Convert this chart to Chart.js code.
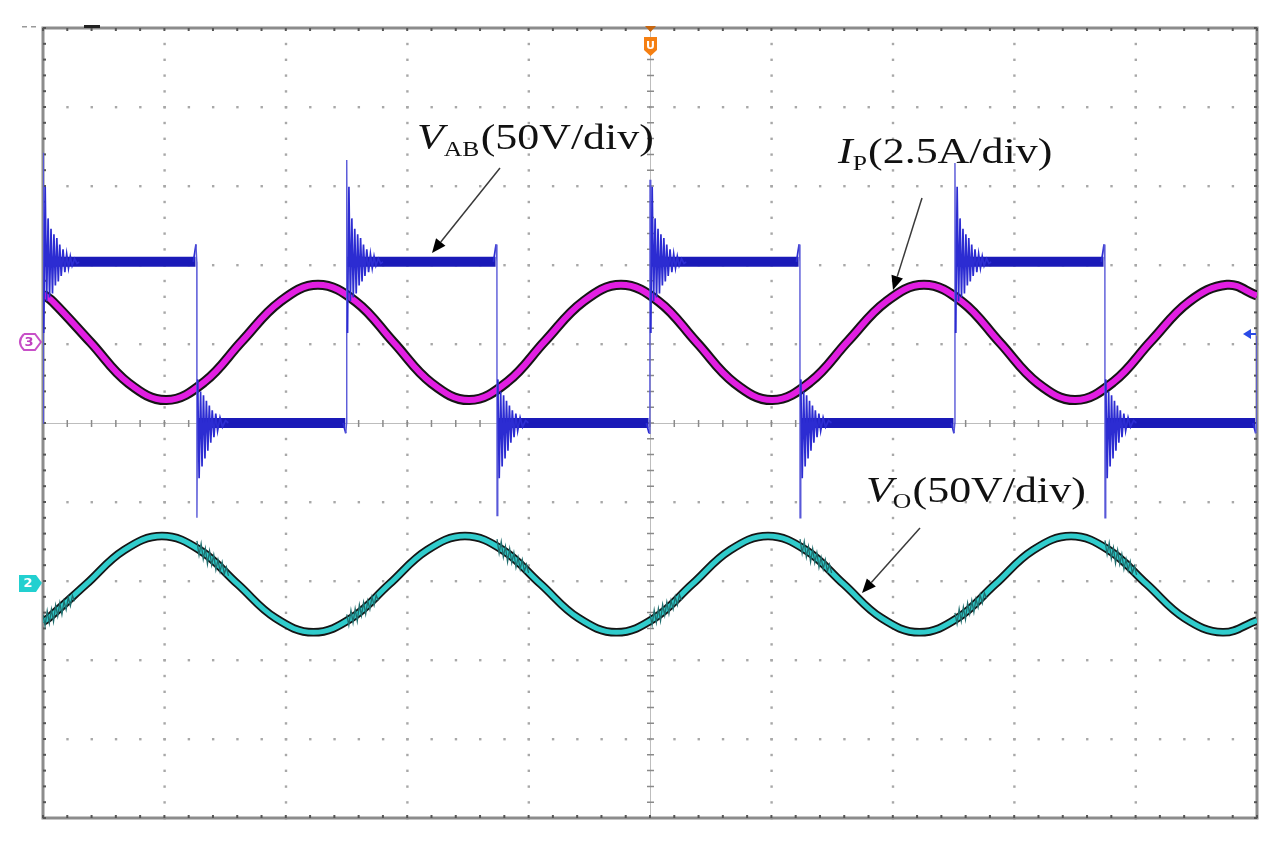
<!DOCTYPE html>
<html><head><meta charset="utf-8">
<script src="https://cdn.jsdelivr.net/npm/chart.js@4.4.0/dist/chart.umd.min.js"></script>
<style>html,body{margin:0;padding:0;background:#fff;}#wrap{width:1285px;height:843px;}</style>
</head><body><div id="wrap"><canvas id="c" width="1285" height="843"></canvas></div>
<script>
// Units: time in horizontal divisions (0..10), amplitude in vertical divisions (-5..5)
const xTicks = [0,1,2,3,4,5,6,7,8,9,10];
const yTicks = [-5,-4,-3,-2,-1,0,1,2,3,4,5];

// Ip (2.5A/div) - magenta
const ipTime  = [0,0.081,0.393,0.705,1.017,1.329,1.641,1.953,2.265,2.577,2.889,3.201,3.513,3.825,4.137,4.449,4.761,5.073,5.385,5.697,6.009,6.321,6.633,6.945,7.257,7.569,7.881,8.193,8.505,8.817,9.129,9.441,9.753,10.0];
const ipValue = [1.63,1.536,1.02,0.504,0.29,0.52,1.04,1.536,1.75,1.536,1.02,0.504,0.29,0.52,1.04,1.536,1.75,1.536,1.02,0.504,0.29,0.52,1.04,1.536,1.75,1.536,1.02,0.504,0.29,0.52,1.04,1.536,1.75,1.613];

// Vo (50V/div) - cyan
const voTime  = [0,0.044,0.356,0.668,0.980,1.292,1.604,1.916,2.228,2.540,2.852,3.164,3.476,3.788,4.100,4.412,4.724,5.036,5.348,5.660,5.972,6.284,6.596,6.908,7.220,7.532,7.844,8.156,8.468,8.780,9.092,9.404,9.716,10.0];
const voValue = [-2.516,-2.471,-2.04,-1.609,-1.43,-1.609,-2.04,-2.471,-2.65,-2.471,-2.04,-1.609,-1.43,-1.609,-2.04,-2.471,-2.65,-2.471,-2.04,-1.609,-1.43,-1.609,-2.04,-2.471,-2.65,-2.471,-2.04,-1.609,-1.43,-1.609,-2.04,-2.471,-2.65,-2.50];
// Vo switching noise patches (start time, level at start, level at end)
const voFuzzStart = [0, 1.268, 2.502, 3.740, 5.0, 6.236, 7.512, 8.748];
const voFuzzFrom  = [-2.516, -1.583, -2.511, -1.56, -2.508, -1.56, -2.493, -1.575];
const voFuzzTo    = [-2.215, -1.894, -2.207, -1.859, -2.204, -1.859, -2.18, -1.882];
const voFuzzLen = 0.26;
const voFuzzPattern = [0.09,-0.07,0.1,-0.08,0.08,-0.1,0.09,-0.07,0.08,-0.09,0.06,-0.07,0.07,-0.06,0.05,-0.04];

// VAB (50V/div) - blue square wave with ringing
const vabHigh = 2.04;
const vabLow = 0;
const vabRiseTimes = [0, 2.502, 5.0, 7.512];
const vabRiseSpike = [3.42, 3.33, 3.08, 3.29];
const vabFallTimes = [1.268, 3.740, 6.236, 8.748];
const vabFallSpike = [-1.2, -1.17, -1.2, -1.2];
const vabPreFallBump = 0.22;
const vabPreRiseDip = -0.13;
const vabEndRise = [9.997, 1.1];
const riseRingOffset = [0.006,0.018,0.03,0.042,0.054,0.066,0.078,0.09,0.102,0.114,0.126,0.138,0.15,0.165,0.18,0.195,0.21,0.225,0.24,0.26,0.28,0.3];
const riseRingValue  = [-0.9,0.95,-0.5,0.55,-0.45,0.42,-0.4,0.35,-0.3,0.3,-0.25,0.22,-0.18,0.16,-0.13,0.1,-0.08,0.07,-0.05,0.04,-0.02,0];
const fallRingOffset = [0.006,0.018,0.03,0.042,0.054,0.066,0.078,0.09,0.102,0.114,0.126,0.14,0.155,0.17,0.19,0.21,0.235,0.26];
const fallRingValue  = [0.55,-0.7,0.4,-0.55,0.35,-0.45,0.28,-0.35,0.22,-0.25,0.16,-0.18,0.12,-0.1,0.07,-0.05,0.03,0];

// ---- build point tables from the arrays above ----
const ipPts = ipTime.map((t,i)=>({x:t,y:ipValue[i]}));
const voPts = voTime.map((t,i)=>({x:t,y:voValue[i]}));
const voFuzzPts = [];
voFuzzStart.forEach((s,i)=>{
  const n = voFuzzPattern.length;
  voFuzzPattern.forEach((p,k)=>{
    const f = k/(n-1);
    voFuzzPts.push({x:s+f*voFuzzLen, y:voFuzzFrom[i]+(voFuzzTo[i]-voFuzzFrom[i])*f+p});
  });
  voFuzzPts.push({x:null,y:null});
});
const vabBandPts = [];
vabRiseTimes.forEach((r,i)=>{
  const f = vabFallTimes[i];
  const nr = i+1<vabRiseTimes.length ? vabRiseTimes[i+1] : vabEndRise[0];
  vabBandPts.push({x:r+0.004,y:vabHigh},{x:f-0.012,y:vabHigh},{x:null,y:null});
  vabBandPts.push({x:f+0.004,y:vabLow},{x:nr-0.012,y:vabLow},{x:null,y:null});
});
const vabPts = [];
vabRiseTimes.forEach((r,i)=>{
  const f = vabFallTimes[i];
  if (i>0) vabPts.push({x:r-0.03,y:vabLow},{x:r-0.008,y:vabLow+vabPreRiseDip},{x:r-0.001,y:vabLow});
  else vabPts.push({x:r,y:vabLow});
  vabPts.push({x:r,y:vabRiseSpike[i]});
  riseRingOffset.forEach((o,k)=>vabPts.push({x:r+o,y:vabHigh+riseRingValue[k]}));
  vabPts.push({x:f-0.03,y:vabHigh},{x:f-0.008,y:vabHigh+vabPreFallBump},{x:f-0.001,y:vabHigh});
  vabPts.push({x:f,y:vabFallSpike[i]});
  fallRingOffset.forEach((o,k)=>vabPts.push({x:f+o,y:vabLow+fallRingValue[k]}));
});
vabPts.push({x:vabEndRise[0]-0.03,y:vabLow},{x:vabEndRise[0]-0.008,y:vabLow+vabPreRiseDip},{x:vabEndRise[0],y:vabLow},{x:vabEndRise[0]+0.002,y:vabEndRise[1]});

// ---- scope graticule ----
const gridPlugin = {
  id:'graticule',
  beforeDatasetsDraw(chart){
    const {ctx, chartArea:a, scales:{x,y}} = chart;
    ctx.save();
    ctx.fillStyle = '#a8a8a8';
    xTicks.forEach((v,i)=>{
      if (i===0 || i===xTicks.length-1 || v===5) return;
      const px = x.getPixelForValue(v);
      for (let m=-5; m<=5.0001; m+=0.2){ const py=y.getPixelForValue(m); ctx.fillRect(px-1,py-1,2.4,2.4); }
    });
    yTicks.forEach((v,i)=>{
      if (i===0 || i===yTicks.length-1 || v===0) return;
      const py = y.getPixelForValue(v);
      for (let m=0; m<=10.0001; m+=0.2){ const px=x.getPixelForValue(m); ctx.fillRect(px-1,py-1,2.4,2.4); }
    });
    const cx = x.getPixelForValue(5), cy = y.getPixelForValue(0);
    ctx.strokeStyle = '#bdbdbd'; ctx.lineWidth = 1;
    ctx.beginPath(); ctx.moveTo(a.left,cy+0.5); ctx.lineTo(a.right,cy+0.5); ctx.moveTo(cx+0.5,a.top); ctx.lineTo(cx+0.5,a.bottom); ctx.stroke();
    ctx.strokeStyle = '#8a8a8a'; ctx.lineWidth = 1.5;
    ctx.beginPath();
    for (let m=0; m<=10.0001; m+=0.2){ const px=x.getPixelForValue(m); ctx.moveTo(px,cy-3); ctx.lineTo(px,cy+4); }
    for (let m=-5; m<=5.0001; m+=0.2){ const py=y.getPixelForValue(m); ctx.moveTo(cx-3,py); ctx.lineTo(cx+4,py); }
    ctx.stroke();
    ctx.strokeStyle = '#8c8c8c'; ctx.lineWidth = 3;
    ctx.strokeRect(a.left, a.top, a.right-a.left, a.bottom-a.top);
    ctx.fillStyle = '#555';
    for (let m=0; m<=10.0001; m+=0.2){ const px=x.getPixelForValue(m); ctx.fillRect(px-1,a.top,2,3); ctx.fillRect(px-1,a.bottom-3,2,3); }
    for (let m=-5; m<=5.0001; m+=0.2){ const py=y.getPixelForValue(m); ctx.fillRect(a.left,py-1,3,2); ctx.fillRect(a.right-3,py-1,3,2); }
    ctx.restore();
  }
};

function arrow(ctx, x1,y1,x2,y2){
  const ang = Math.atan2(y2-y1,x2-x1), L=14, W=6;
  const bx = x2 - L*Math.cos(ang), by = y2 - L*Math.sin(ang);
  ctx.strokeStyle='#3a3a3a'; ctx.lineWidth=1.5;
  ctx.beginPath(); ctx.moveTo(x1,y1); ctx.lineTo(bx,by); ctx.stroke();
  ctx.fillStyle='#000';
  ctx.beginPath(); ctx.moveTo(x2,y2);
  ctx.lineTo(bx + W*Math.sin(ang), by - W*Math.cos(ang));
  ctx.lineTo(bx - W*Math.sin(ang), by + W*Math.cos(ang));
  ctx.closePath(); ctx.fill();
}
function label(ctx, main, sub, rest, x, base, subDy){
  ctx.save(); ctx.translate(x, base); ctx.scale(1.22,1.02);
  ctx.fillStyle='#111'; ctx.textBaseline='alphabetic'; ctx.textAlign='left';
  ctx.font='italic 36px "Liberation Serif"'; ctx.fillText(main,0,0);
  let w = ctx.measureText(main).width;
  ctx.font='21px "Liberation Serif"'; ctx.fillText(sub,w,subDy);
  w += ctx.measureText(sub).width + 1;
  ctx.font='36px "Liberation Serif"'; ctx.fillText(rest,w,0);
  ctx.restore();
}

const annotPlugin = {
  id:'annot',
  afterDatasetsDraw(chart){
    const {ctx} = chart;
    ctx.save();
    label(ctx,'V','AB','(50V/div)',417,149,7);
    label(ctx,'I','P','(2.5A/div)',838,163,7);
    label(ctx,'V','O','(50V/div)',866,502,6);
    arrow(ctx,500,168,432,253);
    arrow(ctx,922,198,893,290);
    arrow(ctx,920,528,862,593);
    ctx.fillStyle='#c8660e';
    ctx.beginPath(); ctx.moveTo(645,26); ctx.lineTo(656,26); ctx.lineTo(650.5,32); ctx.closePath(); ctx.fill();
    ctx.fillStyle='#f57f12';
    ctx.beginPath(); ctx.moveTo(644,37); ctx.lineTo(657,37); ctx.lineTo(657,50); ctx.lineTo(650.5,56); ctx.lineTo(644,50); ctx.closePath(); ctx.fill();
    ctx.fillStyle='#fff'; ctx.font='bold 11px "DejaVu Sans"'; ctx.textAlign='center'; ctx.textBaseline='middle';
    ctx.fillText('U',650.5,46);
    ctx.strokeStyle='#c850c8'; ctx.lineWidth=2;
    ctx.beginPath(); ctx.moveTo(24,334); ctx.lineTo(35,334); ctx.lineTo(41,342); ctx.lineTo(35,350); ctx.lineTo(24,350);
    ctx.quadraticCurveTo(16,342,24,334); ctx.stroke();
    ctx.fillStyle='#c040c0'; ctx.font='bold 13px "DejaVu Sans"'; ctx.fillText('3',29,342.5);
    ctx.fillStyle='#22d0d0';
    ctx.beginPath(); ctx.moveTo(19,575); ctx.lineTo(36,575); ctx.lineTo(42,583); ctx.lineTo(36,592); ctx.lineTo(19,592); ctx.closePath(); ctx.fill();
    ctx.fillStyle='#fff'; ctx.font='bold 13px "DejaVu Sans"'; ctx.fillText('2',28,584);
    ctx.fillStyle='#2a4ae6';
    ctx.beginPath(); ctx.moveTo(1243,334); ctx.lineTo(1251,329); ctx.lineTo(1251,339); ctx.closePath(); ctx.fill();
    ctx.fillRect(1250,333,6,2);
    ctx.fillStyle='#222'; ctx.fillRect(84,25,16,3);
    ctx.fillStyle='#999'; ctx.fillRect(22,26,5,1.5); ctx.fillRect(31,26,5,1.5);
    ctx.restore();
  }
};

const vabSeg = {
  borderWidth: c => { const dx=Math.abs(c.p1.x-c.p0.x); if (dx<1.2) return 1.4; return 1.7; },
  borderColor: c => { const dx=Math.abs(c.p1.x-c.p0.x), dy=Math.abs(c.p1.y-c.p0.y); if (dx<1.2) return '#5858d8'; if (dy<0.5*dx) return '#1a1ab8'; return '#2c2cd2'; }
};

new Chart(document.getElementById('c'), {
  type:'line',
  data:{ datasets:[
    {label:'VAB', data:vabPts, order:0, borderColor:'#2c2cd2', borderWidth:1.7, tension:0, segment:vabSeg},
    {label:'VAB level', data:vabBandPts, order:1, borderColor:'#1a1ab8', borderWidth:10, tension:0, borderCapStyle:'butt', spanGaps:false},
    {label:'Ip', data:ipPts, order:2, borderColor:'#e21ee2', borderWidth:6, tension:0.4},
    {label:'Ip edge', data:ipPts, order:3, borderColor:'#151515', borderWidth:10, tension:0.4},
    {label:'Vo noise', data:voFuzzPts, order:4, borderColor:'#1f6e6e', borderWidth:1.3, tension:0, spanGaps:false},
    {label:'Vo', data:voPts, order:5, borderColor:'#30cccc', borderWidth:5, tension:0.4},
    {label:'Vo edge', data:voPts, order:6, borderColor:'#151515', borderWidth:8.5, tension:0.4}
  ]},
  options:{
    responsive:false, animation:false, devicePixelRatio:1,
    layout:{padding:{left:43, top:28, right:28, bottom:25}},
    elements:{point:{radius:0, hoverRadius:0}},
    scales:{
      x:{type:'linear', min:0, max:10, display:false},
      y:{type:'linear', min:-5, max:5, display:false}
    },
    plugins:{legend:{display:false}, tooltip:{enabled:false}}
  },
  plugins:[gridPlugin, annotPlugin]
});
</script></body></html>
